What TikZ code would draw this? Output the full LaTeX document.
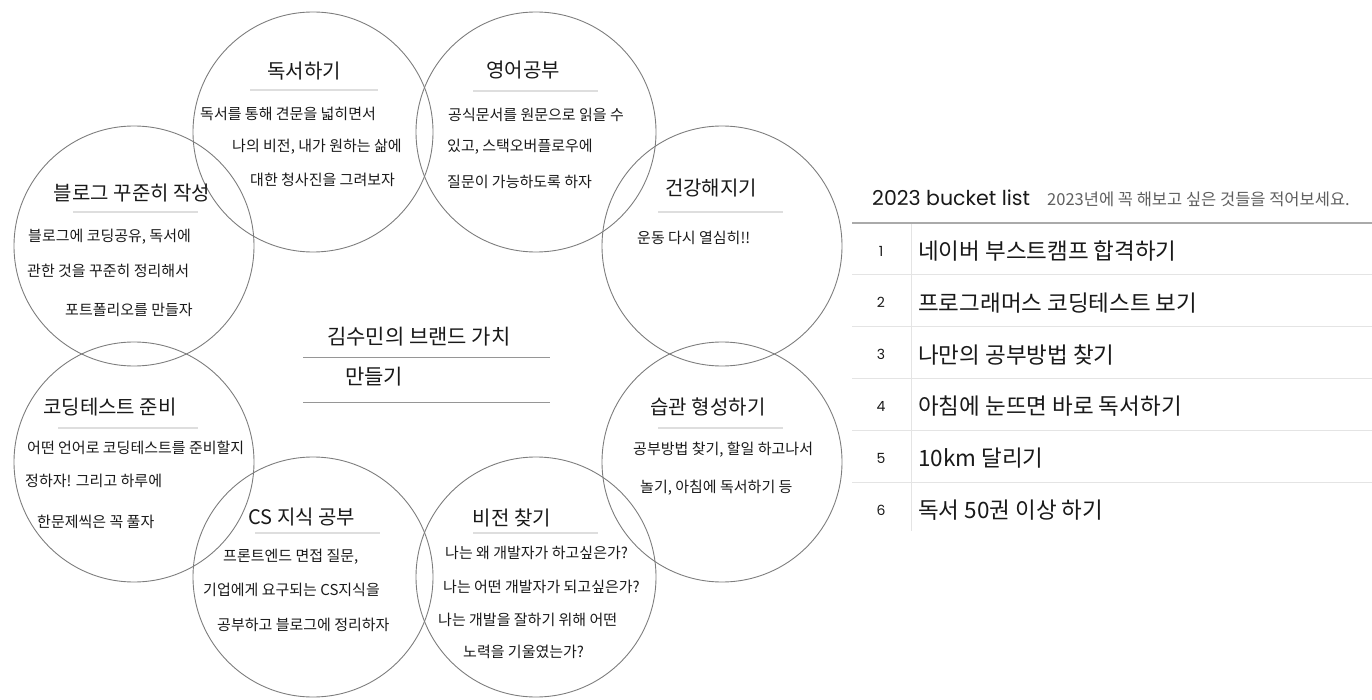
\documentclass[tikz,border=0pt]{standalone}
\usepackage{fontspec}
\setmainfont{Noto Sans CJK KR}
\newfontfamily\poppins{Poppins}
\usepackage{tikz}
\usetikzlibrary{positioning}
\definecolor{cRing}{RGB}{125,125,125}
\definecolor{cRule}{RGB}{222,222,222}
\definecolor{cMidRule}{RGB}{150,150,150}
\definecolor{cInk}{RGB}{25,25,25}
\definecolor{cSub}{RGB}{95,95,95}
\definecolor{cGrid}{RGB}{228,228,228}
\definecolor{cHead}{RGB}{170,170,170}
\tikzset{
  goal/.style={circle,draw=cRing,line width=0.9pt,minimum size=240pt,inner sep=0pt},
  gtitle/.style={font=\fontsize{20}{24}\selectfont,text=cInk,inner sep=0pt},
  gline/.style={anchor=west,font=\fontsize{15}{18}\selectfont,text=cInk,inner sep=0pt},
  brandtxt/.style={anchor=west,font=\fontsize{21}{25}\selectfont,text=cInk,inner sep=0pt},
  titlerule/.style={draw=cRule,line width=1.2pt},
  brandrule/.style={draw=cMidRule,line width=1pt},
  gridline/.style={draw=cGrid,line width=1pt},
  headline/.style={draw=cHead,line width=1.2pt},
  rownum/.style={font=\poppins\fontsize{14}{16}\selectfont,text=cInk,inner sep=0pt},
  rowtxt/.style={anchor=west,font=\fontsize{22.5}{26}\selectfont,text=cInk,inner sep=0pt}
}

\begin{document}
\begin{tikzpicture}[x=1pt,y=-1pt]
  \useasboundingbox (0,0) rectangle (1372,700);

  % eight goal circles
  \node[goal] (read)   at (313,132) {};
  \node[goal] (eng)    at (536,132) {};
  \node[goal] (blog)   at (134,246) {};
  \node[goal] (health) at (722,246) {};
  \node[goal] (code)   at (134,462) {};
  \node[goal] (habit)  at (722,462) {};
  \node[goal] (cs)     at (313,577) {};
  \node[goal] (vision) at (536,577) {};

  % 독서하기
  \node[gtitle] (readT) at (304,71) {독서하기};
  \draw[titlerule] (250,90) -- (378,90);
  \node[gline] (read1) at (200,114) {독서를 통해 견문을 넓히면서};
  \node[gline] (read2) at (232,147) {나의 비전, 내가 원하는 삶에};
  \node[gline] (read3) at (250,180) {대한 청사진을 그려보자};

  % 영어공부
  \node[gtitle] (engT) at (523,70) {영어공부};
  \draw[titlerule] (473,91) -- (598,91);
  \node[gline] (eng1) at (448,115) {공식문서를 원문으로 읽을 수};
  \node[gline] (eng2) at (447,147) {있고, 스택오버플로우에};
  \node[gline] (eng3) at (447,182) {질문이 가능하도록 하자};

  % 블로그
  \node[gtitle] (blogT) at (132,193) {블로그 꾸준히 작성};
  \draw[titlerule] (73,212) -- (198,212);
  \node[gline] (blog1) at (28,237) {블로그에 코딩공유, 독서에};
  \node[gline] (blog2) at (27,271) {관한 것을 꾸준히 정리해서};
  \node[gline] (blog3) at (65,310) {포트폴리오를 만들자};

  % 건강해지기
  \node[gtitle] (healthT) at (711,188) {건강해지기};
  \draw[titlerule] (658,212) -- (783,212);
  \node[gline] (health1) at (637,238) {운동 다시 열심히!!};

  % 코딩테스트 준비
  \node[gtitle] (codeT) at (110,407) {코딩테스트 준비};
  \draw[titlerule] (58,428) -- (198,428);
  \node[gline] (code1) at (27,448) {어떤 언어로 코딩테스트를 준비할지};
  \node[gline] (code2) at (25,481) {정하자! 그리고 하루에};
  \node[gline] (code3) at (37,522) {한문제씩은 꼭 풀자};

  % 습관 형성하기
  \node[gtitle] (habitT) at (708,407) {습관 형성하기};
  \draw[titlerule] (658,428) -- (783,428);
  \node[gline] (habit1) at (633,450) {공부방법 찾기, 할일 하고나서};
  \node[gline] (habit2) at (640,488) {놀기, 아침에 독서하기 등};

  % CS 지식 공부
  \node[gtitle] (csT) at (302,517) {CS 지식 공부};
  \draw[titlerule] (255,533) -- (380,533);
  \node[gline] (cs1) at (223,557) {프론트엔드 면접 질문,};
  \node[gline] (cs2) at (203,590) {기업에게 요구되는 CS지식을};
  \node[gline] (cs3) at (217,625) {공부하고 블로그에 정리하자};

  % 비전 찾기
  \node[gtitle] (visionT) at (512,518) {비전 찾기};
  \draw[titlerule] (473,533) -- (598,533);
  \node[gline] (vision1) at (445,553) {나는 왜 개발자가 하고싶은가?};
  \node[gline] (vision2) at (443,587) {나는 어떤 개발자가 되고싶은가?};
  \node[gline] (vision3) at (438,620) {나는 개발을 잘하기 위해 어떤};
  \node[gline] (vision4) at (463,652) {노력을 기울였는가?};

  % centre
  \node[brandtxt] (brand1) at (327,337) {김수민의 브랜드 가치};
  \draw[brandrule] (303,357) -- (550,357);
  \node[brandtxt] (brand2) at (345,377) {만들기};
  \draw[brandrule] (303,402) -- (550,402);

  % bucket list
  \node[anchor=west,inner sep=0pt,font=\poppins\fontsize{20.5}{24}\selectfont,text=cInk]
      (listT) at (872,198) {2023 bucket list};
  \node[anchor=west,inner sep=0pt,font=\fontsize{16.5}{19}\selectfont,text=cSub]
      (listS) at (1047,199) {2023년에 꼭 해보고 싶은 것들을 적어보세요.};
  \foreach \k in {1,...,5}
    \draw[gridline] (852,{223+51.8*\k}) -- (1372,{223+51.8*\k});
  \draw[gridline] (911,223) -- (911,531);
  \draw[headline] (852,223) -- (1372,223);
  \foreach \n/\txt [count=\i from 0] in {1/네이버 부스트캠프 합격하기,
      2/프로그래머스 코딩테스트 보기, 3/나만의 공부방법 찾기,
      4/아침에 눈뜨면 바로 독서하기, 5/10km 달리기, 6/독서 50권 이상 하기}{
    \node[rownum] (num\n) at (881,{251+51.8*\i}) {\n};
    \node[rowtxt] (row\n) at (918,{251+51.8*\i}) {\txt};
  }
\end{tikzpicture}
\end{document}
